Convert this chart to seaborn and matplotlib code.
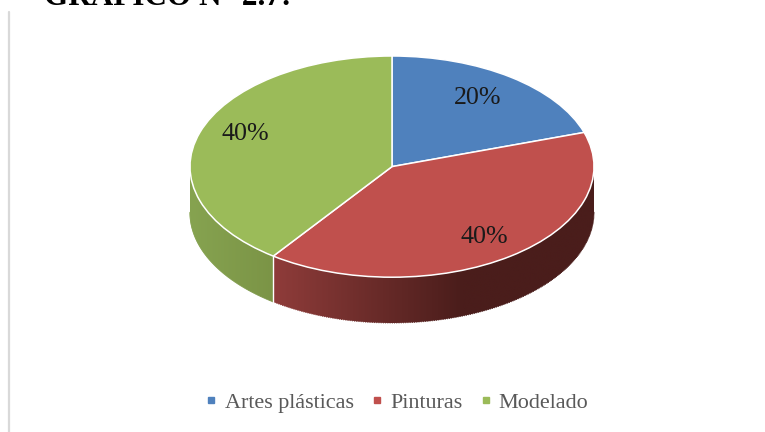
import numpy as np
import seaborn as sns
import matplotlib.pyplot as plt
from matplotlib.colors import to_rgb, LinearSegmentedColormap
from matplotlib.lines import Line2D
from matplotlib.patches import Polygon

# data
categories = ['Artes plásticas', 'Pinturas', 'Modelado']
values = [20, 40, 40]
colors = ['#4f81bd', '#c0504d', '#9bbb59']
title = 'GRÁFICO N° 2.7:'

# wall colour at the left end and at the right end, per slice
wall_left = {'Pinturas': '#8f3c3a', 'Modelado': '#86a350'}
wall_right = {'Pinturas': '#4a1d1b', 'Modelado': '#7b9446'}

W, H = 765, 432
depth = 0.414  # height of the pie wall in y units of the axes
RX, RY = 202, 111  # pixels per axes unit


def main():
  sns.set_theme(style='white')
  plt.rcParams['font.family'] = ['Liberation Serif', 'DejaVu Serif']

  fig = plt.figure(figsize=(W / 100, H / 100), dpi=100, facecolor='white')
  # axes spans the ellipse (404x222 px) plus the wall below it
  ax = fig.add_axes([190 / W, (H - 323) / H, 404 / W, 267 / H])

  wedges, texts, autotexts = ax.pie(
      values, colors=colors, startangle=90, counterclock=False, radius=1,
      autopct='%.0f%%', pctdistance=0.77,
      wedgeprops={'edgecolor': 'white', 'linewidth': 1.1, 'zorder': 3},
      textprops={'fontsize': 18.7, 'color': '#1a1a1a', 'zorder': 5})

  # small nudges of the labels, in pixels
  for txt, (dx, dy) in zip(autotexts, [(-6, 0), (1, 1), (1, -6)]):
    px, py = txt.get_position()
    txt.set_position((px + dx / RX, py - dy / RY))

  # wall of the pie, only the front half (90 to 270 degrees clockwise from the top)
  ends = np.cumsum(values) / np.sum(values) * 360
  starts = ends - np.array(values) / np.sum(values) * 360
  for name, a0, a1 in zip(categories, starts, ends):
    a0, a1 = max(a0, 90), min(a1, 270)
    if a0 >= a1 or name not in wall_left:
      continue
    t = np.radians(np.linspace(a0, a1, 200))
    x = np.sin(t)
    y = np.cos(t)
    x0, x1 = x.min(), x.max()
    stop = 0.35 if name == 'Pinturas' else x1  # red wall is darkest from here on
    c0 = np.array(to_rgb(wall_left[name]))
    c1 = np.array(to_rgb(wall_right[name]))
    f = np.clip((np.linspace(x0, x1, 256) - x0) / (stop - x0), 0, 1)
    grad = (c0 + (c1 - c0) * f[:, None])[None, :, :]
    poly = Polygon(np.column_stack([np.r_[x, x[::-1]], np.r_[y, y[::-1] - depth]]),
                   transform=ax.transData, fc='none', ec='none')
    ax.add_patch(poly)
    im = ax.imshow(grad, extent=(x0, x1, -1 - depth, 1), aspect='auto', zorder=1,
                   interpolation='bilinear')
    im.set_clip_path(poly)
    # soften the lower edge of the wall
    ax.scatter(x, y - depth, s=0.6, c=np.clip((x - x0) / (stop - x0), 0, 1),
               cmap=LinearSegmentedColormap.from_list('w', [c0, c1]),
               vmin=0, vmax=1, lw=0, zorder=1.5, clip_on=False)
    # white seam where a slice boundary runs down the wall
    if name == 'Pinturas':
      ax.plot([x[-1], x[-1]], [y[-1], y[-1] - depth], color='white', lw=1, zorder=2)

  ax.set_aspect('auto')
  ax.set_xlim(-1, 1)
  ax.set_ylim(-1 - depth, 1)
  ax.axis('off')
  for w in wedges:
    w.set_clip_on(False)

  handles = [Line2D([], [], linestyle='none', marker='s', markersize=4.6, color=c)
             for c in colors]
  fig.legend(handles, categories, loc='center', bbox_to_anchor=(394.5 / W, 1 - 403 / H),
             ncol=3, frameon=False, fontsize=15.9, labelcolor='#595959',
             handletextpad=0.1, columnspacing=0.55, handlelength=1.0)

  fig.text(44 / W, 1 - 5 / H, title, fontsize=22.5, fontweight='bold', color='black',
           ha='left', va='baseline')
  fig.add_artist(Line2D([9 / W, 9 / W], [0, 1 - 12 / H], color='#d9d9d9', lw=1.6))

  fig.savefig('out.png', dpi=100)


if __name__ == '__main__':
  main()
